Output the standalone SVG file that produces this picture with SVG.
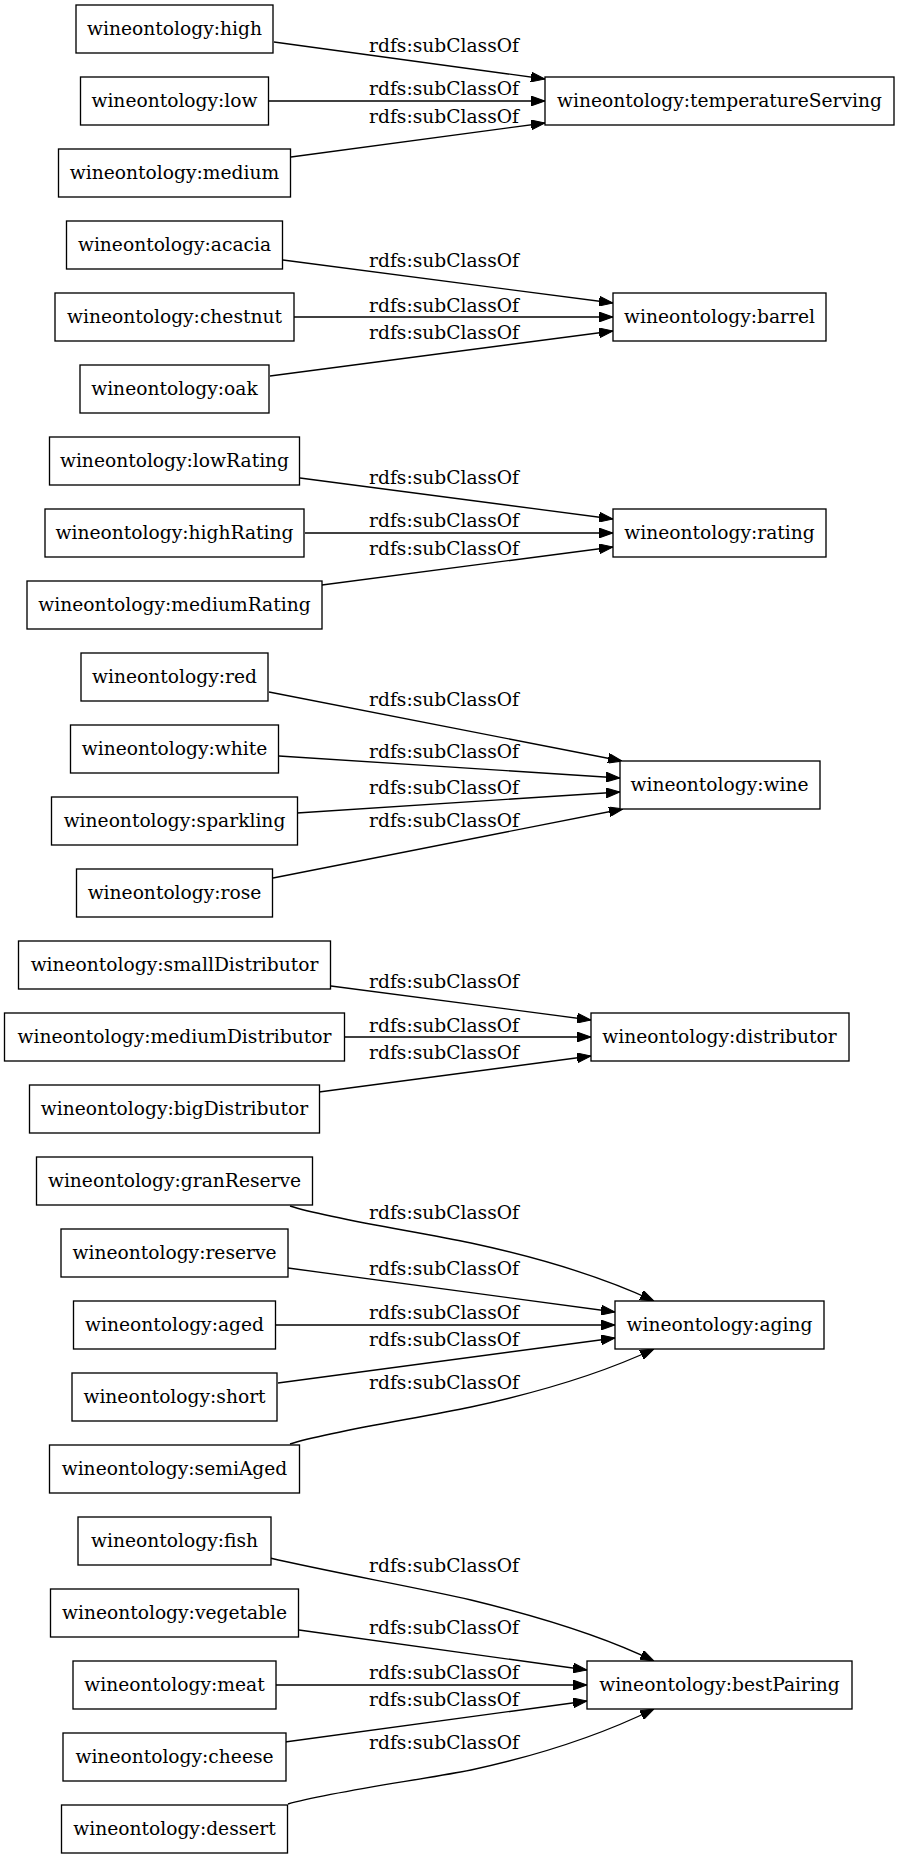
<svg xmlns="http://www.w3.org/2000/svg" width="900" height="1859" viewBox="0 0 900 1859">
<style>
.n rect{fill:#fff;stroke:#000;stroke-width:1.33}
.n text,.lbl text{font-family:"DejaVu Serif",serif;font-size:18.67px;fill:#000}
.n text{text-anchor:middle}
.lbl text{text-anchor:middle}
.e{fill:none;stroke:#000;stroke-width:1.33;marker-end:url(#arr)}
</style>
<defs>
<marker id="arr" markerUnits="userSpaceOnUse" markerWidth="14" markerHeight="10" viewBox="0 0 13.33 9.33" refX="13.33" refY="4.67" orient="auto">
<path d="M0,0 L13.33,4.67 L0,9.33 z" fill="#000" stroke="#000" stroke-width="1"/>
</marker>
</defs>
<rect width="900" height="1859" fill="#fff"/>
<g id="connectors">
<path class="e" d="M274,42 L545,79"/>
<path class="e" d="M269,101 L545,101"/>
<path class="e" d="M291,157 L545,123"/>
<path class="e" d="M283,260 L613,303"/>
<path class="e" d="M294,317 L613,317"/>
<path class="e" d="M270,376 L613,331"/>
<path class="e" d="M300,478 L613,519"/>
<path class="e" d="M305,533 L613,533"/>
<path class="e" d="M322,585 L613,547"/>
<path class="e" d="M269,692 L622,761"/>
<path class="e" d="M279,756 L620,778"/>
<path class="e" d="M297,813 L620,792"/>
<path class="e" d="M273,878 L623,809"/>
<path class="e" d="M331,986 L591,1020"/>
<path class="e" d="M344,1037 L591,1037"/>
<path class="e" d="M319,1092 L591,1056"/>
<path class="e" d="M290,1206 C330,1219 420,1232 471,1243 C545,1259 607,1279 654,1301"/>
<path class="e" d="M288,1268 L615,1312"/>
<path class="e" d="M275,1325 L615,1325"/>
<path class="e" d="M278,1383 L615,1338"/>
<path class="e" d="M290,1444 C330,1431 420,1418 471,1407 C545,1391 607,1371 654,1349"/>
<path class="e" d="M270,1558 C330,1572 420,1588 471,1600 C545,1618 607,1638 654,1661"/>
<path class="e" d="M299,1630 L587,1670"/>
<path class="e" d="M276,1685 L587,1685"/>
<path class="e" d="M285,1742 L587,1701"/>
<path class="e" d="M288,1804 C330,1792 420,1780 471,1770 C545,1754 607,1732 654,1709"/>
</g>
<g class="lbl" id="edge-labels">
<text x="444" y="52">rdfs:subClassOf</text>
<text x="444" y="95">rdfs:subClassOf</text>
<text x="444" y="123">rdfs:subClassOf</text>
<text x="444" y="267">rdfs:subClassOf</text>
<text x="444" y="312">rdfs:subClassOf</text>
<text x="444" y="339">rdfs:subClassOf</text>
<text x="444" y="484">rdfs:subClassOf</text>
<text x="444" y="527">rdfs:subClassOf</text>
<text x="444" y="555">rdfs:subClassOf</text>
<text x="444" y="706">rdfs:subClassOf</text>
<text x="444" y="758">rdfs:subClassOf</text>
<text x="444" y="794">rdfs:subClassOf</text>
<text x="444" y="827">rdfs:subClassOf</text>
<text x="444" y="988">rdfs:subClassOf</text>
<text x="444" y="1032">rdfs:subClassOf</text>
<text x="444" y="1059">rdfs:subClassOf</text>
<text x="444" y="1219">rdfs:subClassOf</text>
<text x="444" y="1275">rdfs:subClassOf</text>
<text x="444" y="1319">rdfs:subClassOf</text>
<text x="444" y="1346">rdfs:subClassOf</text>
<text x="444" y="1389">rdfs:subClassOf</text>
<text x="444" y="1572">rdfs:subClassOf</text>
<text x="444" y="1634">rdfs:subClassOf</text>
<text x="444" y="1679">rdfs:subClassOf</text>
<text x="444" y="1706">rdfs:subClassOf</text>
<text x="444" y="1749">rdfs:subClassOf</text>
</g>
<g class="n" id="high"><rect x="76" y="5" width="197" height="48"/><text x="174.5" y="34.5">wineontology:high</text></g>
<g class="n" id="low"><rect x="80.5" y="77" width="188" height="48"/><text x="174.5" y="106.5">wineontology:low</text></g>
<g class="n" id="medium"><rect x="58.5" y="149" width="232" height="48"/><text x="174.5" y="178.5">wineontology:medium</text></g>
<g class="n" id="temperatureServing"><rect x="545" y="77" width="349" height="48"/><text x="719.5" y="106.5">wineontology:temperatureServing</text></g>
<g class="n" id="acacia"><rect x="66.5" y="221" width="216" height="48"/><text x="174.5" y="250.5">wineontology:acacia</text></g>
<g class="n" id="chestnut"><rect x="55" y="293" width="239" height="48"/><text x="174.5" y="322.5">wineontology:chestnut</text></g>
<g class="n" id="oak"><rect x="80" y="365" width="189" height="48"/><text x="174.5" y="394.5">wineontology:oak</text></g>
<g class="n" id="barrel"><rect x="613" y="293" width="213" height="48"/><text x="719.5" y="322.5">wineontology:barrel</text></g>
<g class="n" id="lowRating"><rect x="49.5" y="437" width="250" height="48"/><text x="174.5" y="466.5">wineontology:lowRating</text></g>
<g class="n" id="highRating"><rect x="45" y="509" width="259" height="48"/><text x="174.5" y="538.5">wineontology:highRating</text></g>
<g class="n" id="mediumRating"><rect x="27" y="581" width="295" height="48"/><text x="174.5" y="610.5">wineontology:mediumRating</text></g>
<g class="n" id="rating"><rect x="613" y="509" width="213" height="48"/><text x="719.5" y="538.5">wineontology:rating</text></g>
<g class="n" id="red"><rect x="81" y="653" width="187" height="48"/><text x="174.5" y="682.5">wineontology:red</text></g>
<g class="n" id="white"><rect x="70.5" y="725" width="208" height="48"/><text x="174.5" y="754.5">wineontology:white</text></g>
<g class="n" id="sparkling"><rect x="51.5" y="797" width="246" height="48"/><text x="174.5" y="826.5">wineontology:sparkling</text></g>
<g class="n" id="rose"><rect x="76.5" y="869" width="196" height="48"/><text x="174.5" y="898.5">wineontology:rose</text></g>
<g class="n" id="wine"><rect x="620" y="761" width="200" height="48"/><text x="719.5" y="790.5">wineontology:wine</text></g>
<g class="n" id="smallDistributor"><rect x="18.5" y="941" width="312" height="48"/><text x="174.5" y="970.5">wineontology:smallDistributor</text></g>
<g class="n" id="mediumDistributor"><rect x="4.5" y="1013" width="340" height="48"/><text x="174.5" y="1042.5">wineontology:mediumDistributor</text></g>
<g class="n" id="bigDistributor"><rect x="29.5" y="1085" width="290" height="48"/><text x="174.5" y="1114.5">wineontology:bigDistributor</text></g>
<g class="n" id="distributor"><rect x="591" y="1013" width="258" height="48"/><text x="719.5" y="1042.5">wineontology:distributor</text></g>
<g class="n" id="granReserve"><rect x="36.5" y="1157" width="276" height="48"/><text x="174.5" y="1186.5">wineontology:granReserve</text></g>
<g class="n" id="reserve"><rect x="61" y="1229" width="227" height="48"/><text x="174.5" y="1258.5">wineontology:reserve</text></g>
<g class="n" id="aged"><rect x="73.5" y="1301" width="202" height="48"/><text x="174.5" y="1330.5">wineontology:aged</text></g>
<g class="n" id="short"><rect x="72" y="1373" width="205" height="48"/><text x="174.5" y="1402.5">wineontology:short</text></g>
<g class="n" id="semiAged"><rect x="49.5" y="1445" width="250" height="48"/><text x="174.5" y="1474.5">wineontology:semiAged</text></g>
<g class="n" id="aging"><rect x="615" y="1301" width="209" height="48"/><text x="719.5" y="1330.5">wineontology:aging</text></g>
<g class="n" id="fish"><rect x="78" y="1517" width="193" height="48"/><text x="174.5" y="1546.5">wineontology:fish</text></g>
<g class="n" id="vegetable"><rect x="50.5" y="1589" width="248" height="48"/><text x="174.5" y="1618.5">wineontology:vegetable</text></g>
<g class="n" id="meat"><rect x="73" y="1661" width="203" height="48"/><text x="174.5" y="1690.5">wineontology:meat</text></g>
<g class="n" id="cheese"><rect x="63" y="1733" width="223" height="48"/><text x="174.5" y="1762.5">wineontology:cheese</text></g>
<g class="n" id="dessert"><rect x="61.5" y="1805" width="226" height="48"/><text x="174.5" y="1834.5">wineontology:dessert</text></g>
<g class="n" id="bestPairing"><rect x="587" y="1661" width="265" height="48"/><text x="719.5" y="1690.5">wineontology:bestPairing</text></g>
</svg>
